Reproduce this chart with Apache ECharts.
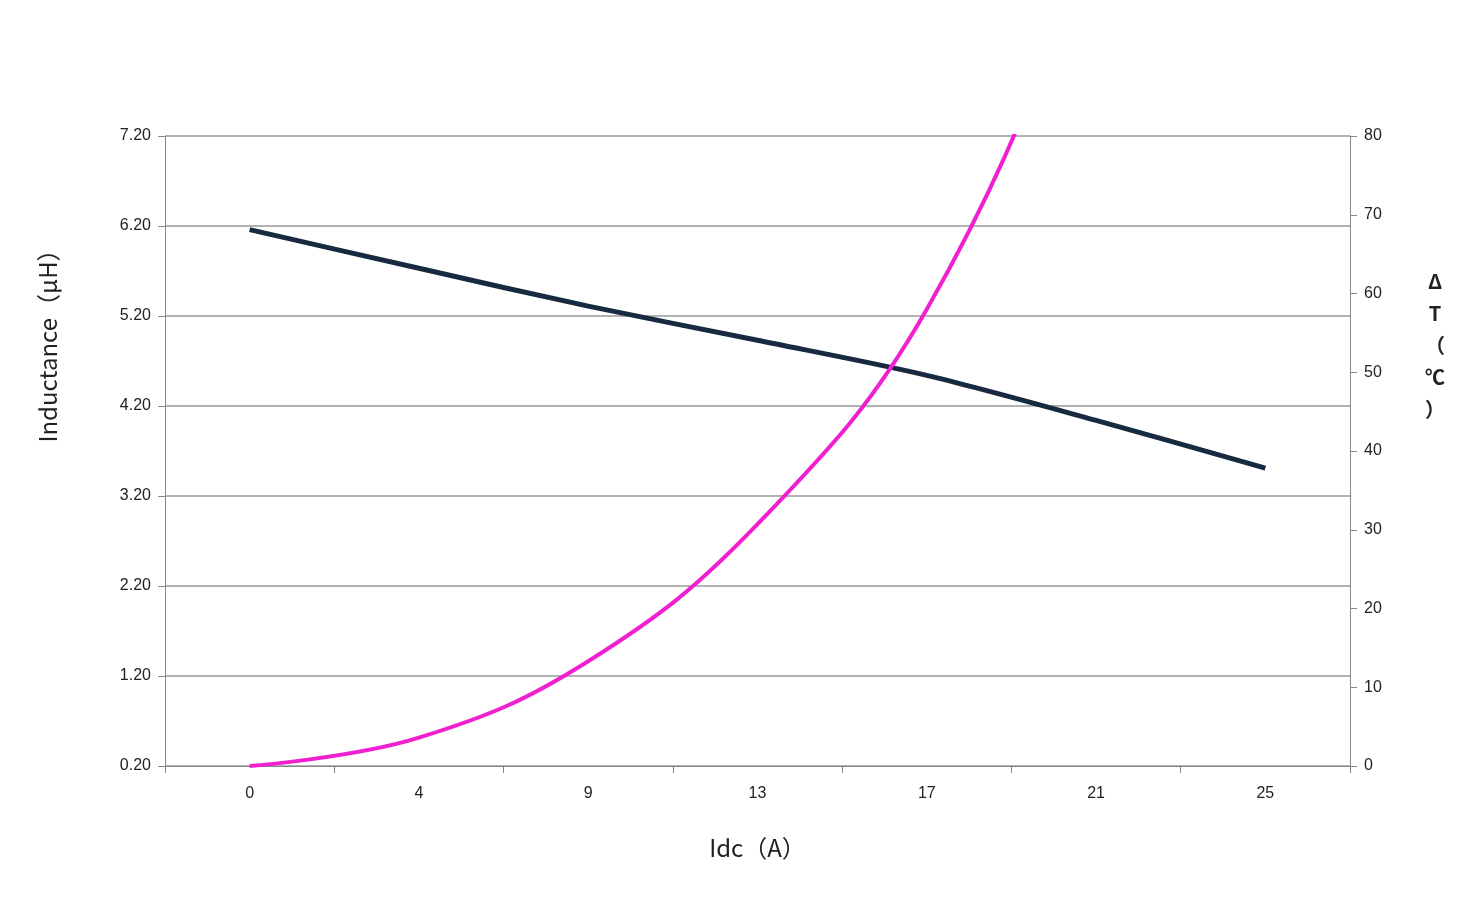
<!DOCTYPE html>
<html><head><meta charset="utf-8">
<script src="https://cdn.jsdelivr.net/npm/echarts@6/dist/echarts.min.js"></script>
<style>html,body{margin:0;background:#fff}#c{width:1474px;height:924px}</style>
</head><body><div id="c"></div>
<script>
const categories = ['0','4','9','13','17','21','25'];
const inductance = [6.16, 5.73, 5.31, 4.93, 4.54, 4.04, 3.51];
const deltaT = [0, 3.6, 13.3, 30.7, 58, 106, 165];
const leftName = 'Inductance（µH）';
const rightName = 'Δ\nT\n（\n℃\n）';
const chart = echarts.init(document.getElementById('c'));
const grey = '#878787';
chart.setOption({
  animation:false,
  grid:{left:165,right:124,top:136,bottom:158},
  graphic:[
    {type:'text',x:48,y:340,rotation:Math.PI/2,
     style:{text:leftName,fontSize:24,fill:'#222',fontFamily:'Noto Sans CJK SC',align:'center',verticalAlign:'middle'}},
    {type:'text',x:1435,y:345,
     style:{text:rightName,fontSize:20,fontWeight:'bold',fill:'#222',lineHeight:32,fontFamily:'Noto Sans CJK SC',align:'center',verticalAlign:'middle'}}
  ],
  xAxis:{type:'category',data:categories,boundaryGap:true,
    name:'Idc（A）',nameLocation:'middle',nameGap:70,
    nameTextStyle:{fontSize:24,color:'#222',fontFamily:'Noto Sans CJK SC'},
    axisLine:{lineStyle:{color:grey}},axisTick:{show:true,length:7,lineStyle:{color:grey}},
    axisLabel:{fontSize:16,color:'#222',margin:20}},
  yAxis:[
    {type:'value',min:0.2,max:7.2,interval:1,
     axisLine:{show:true,lineStyle:{color:grey}},axisTick:{show:true,length:7,lineStyle:{color:grey}},
     splitLine:{lineStyle:{color:'#999',width:1.5}},
     axisLabel:{fontSize:16,color:'#222',formatter:v=>v.toFixed(2),margin:14}},
    {type:'value',min:0,max:80,interval:10,position:'right',
     axisLine:{show:true,lineStyle:{color:grey}},axisTick:{show:true,length:7,lineStyle:{color:grey}},
     splitLine:{show:false},
     axisLabel:{fontSize:16,color:'#222',margin:14}}
  ],
  series:[
    {type:'line',data:inductance,yAxisIndex:0,smooth:0.3,showSymbol:false,
     lineStyle:{color:'#172a40',width:5}},
    {type:'line',data:deltaT,yAxisIndex:1,smooth:0.4,showSymbol:false,clip:true,
     lineStyle:{color:'#f01fd0',width:4}}
  ]
});
</script></body></html>
